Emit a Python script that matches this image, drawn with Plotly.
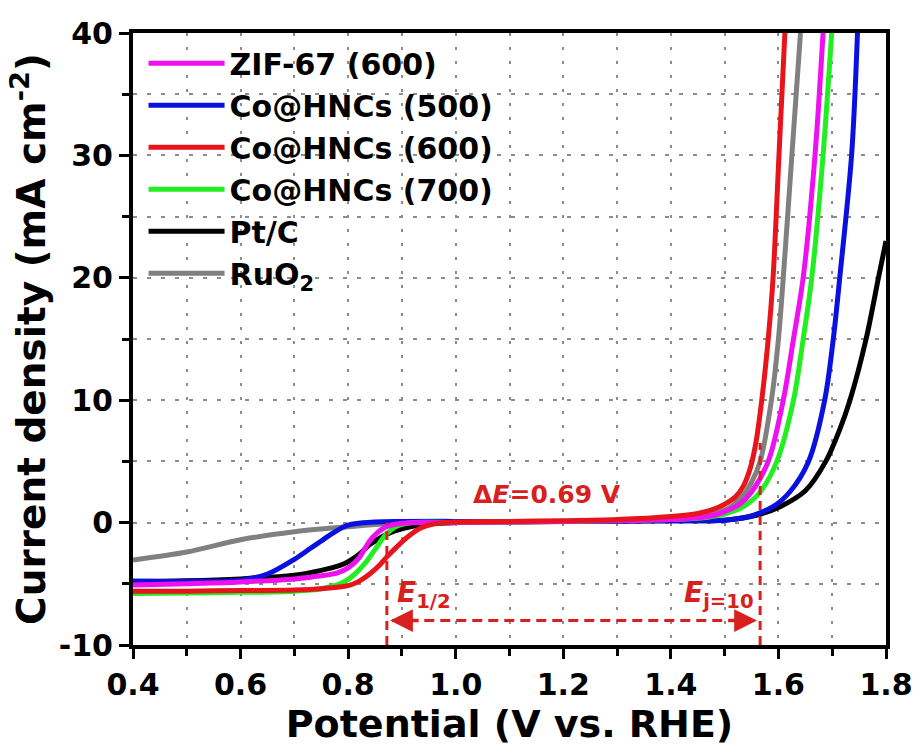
import plotly.graph_objects as go

# ---------------- data ----------------
zif67_x = [0.40, 0.50, 0.60, 0.70, 0.75, 0.78, 0.80, 0.82, 0.84, 0.855, 0.87, 0.90, 1.0, 1.2,
           1.40, 1.45, 1.48, 1.50, 1.528, 1.550, 1.581, 1.609, 1.628, 1.646, 1.668, 1.683]
zif67_y = [-5.1, -5.0, -4.85, -4.6, -4.35, -4.1, -3.7, -2.9, -1.5, -0.8, -0.35, -0.05, 0.0, 0.1,
           0.25, 0.4, 0.6, 0.9, 1.5, 2.5, 5, 10, 15, 20, 30, 40]

co500_x = [0.40, 0.50, 0.60, 0.65, 0.70, 0.73, 0.75, 0.77, 0.80, 0.85, 0.90, 1.0, 1.2, 1.40,
           1.50, 1.53, 1.553, 1.59, 1.621, 1.656, 1.686, 1.702, 1.714, 1.736, 1.747]
co500_y = [-4.8, -4.8, -4.7, -4.2, -3.0, -2.1, -1.5, -0.9, -0.2, 0.05, 0.1, 0.1, 0.1, 0.15,
           0.2, 0.35, 0.6, 1.3, 2.5, 5, 10, 15, 20, 30, 40]

co600_x = [0.40, 0.50, 0.60, 0.70, 0.75, 0.80, 0.82, 0.84, 0.86, 0.872, 0.89, 0.91, 0.935, 0.965,
           1.00, 1.10, 1.20, 1.30, 1.40, 1.45, 1.48, 1.50, 1.52, 1.535, 1.548, 1.558, 1.569, 1.581,
           1.590, 1.601, 1.612]
co600_y = [-5.6, -5.6, -5.55, -5.5, -5.4, -5.15, -4.8, -4.2, -3.4, -2.8, -2.0, -1.2, -0.45, -0.05,
           0.05, 0.1, 0.15, 0.25, 0.5, 0.75, 1.1, 1.5, 2.1, 3.0, 4.5, 6.5, 10, 15, 20, 30, 40]

co700_x = [0.40, 0.50, 0.60, 0.70, 0.75, 0.79, 0.81, 0.83, 0.85, 0.87, 0.89, 0.92, 1.0, 1.2,
           1.40, 1.45, 1.50, 1.535, 1.566, 1.597, 1.628, 1.646, 1.662, 1.683, 1.699]
co700_y = [-5.8, -5.75, -5.7, -5.6, -5.4, -4.9, -4.3, -3.4, -2.2, -1.0, -0.3, 0.0, 0.0, 0.1,
           0.25, 0.35, 0.7, 1.3, 2.5, 5, 10, 15, 20, 30, 40]

ptc_x = [0.40, 0.50, 0.60, 0.70, 0.75, 0.785, 0.80, 0.82, 0.84, 0.854, 0.87, 0.883, 0.90, 0.92,
         0.95, 1.0, 1.2, 1.40, 1.50, 1.559, 1.603, 1.65, 1.688, 1.713, 1.733, 1.763, 1.786, 1.80]
ptc_y = [-4.8, -4.75, -4.6, -4.3, -3.9, -3.5, -3.2, -2.6, -1.8, -1.4, -1.0, -0.75, -0.5, -0.3,
         -0.1, 0.0, 0.1, 0.15, 0.2, 0.6, 1.3, 2.6, 5, 7.5, 10, 15, 20, 23]

ruo2_x = [0.40, 0.50, 0.60, 0.70, 0.77, 0.85, 0.90, 1.00, 1.20, 1.40, 1.45, 1.50, 1.53, 1.55,
          1.566, 1.587, 1.600, 1.609, 1.625, 1.641]
ruo2_y = [-3.05, -2.4, -1.4, -0.75, -0.45, -0.15, -0.05, 0.0, 0.1, 0.3, 0.5, 1.0, 2.0, 3.3,
          5, 10, 15, 20, 30, 40]

# annotation values
e_half = 0.872
e_j10 = 1.566
delta_e_text = "Δ<i>E</i>=0.69 V"

x_ticks = [0.4, 0.6, 0.8, 1.0, 1.2, 1.4, 1.6, 1.8]
x_ticklabels = ["0.4", "0.6", "0.8", "1.0", "1.2", "1.4", "1.6", "1.8"]
y_ticks = [-10, 0, 10, 20, 30, 40]
y_ticklabels = ["-10", "0", "10", "20", "30", "40"]

# ---------------- figure ----------------
FONT = "DejaVu Sans"
RED = "#e8141c"
ANN_RED = "#d8201e"

series = [
    # (name, x, y, color, legendrank) in drawing order
    ("RuO<sub>2</sub>", ruo2_x, ruo2_y, "#808080", 6),
    ("Pt/C", ptc_x, ptc_y, "#000000", 5),
    ("Co@HNCs (500)", co500_x, co500_y, "#0a10e0", 2),
    ("Co@HNCs (700)", co700_x, co700_y, "#22ee22", 4),
    ("ZIF-67 (600)", zif67_x, zif67_y, "#ee10ee", 1),
    ("Co@HNCs (600)", co600_x, co600_y, RED, 3),
]

fig = go.Figure()
for name, xs, ys, col, rank in series:
    fig.add_trace(go.Scatter(
        x=xs, y=ys, mode="lines", name=name, legendrank=rank,
        line=dict(color=col, width=5, shape="spline", smoothing=0.9),
    ))

# dashed guide lines
fig.add_shape(type="line", x0=e_half, x1=e_half, y0=-10, y1=0,
              line=dict(color=ANN_RED, width=3, dash="9px,6px"))
fig.add_shape(type="line", x0=e_j10, x1=e_j10, y0=-10, y1=6.5,
              line=dict(color=ANN_RED, width=3, dash="9px,6px"))
fig.add_shape(type="line", x0=e_half + 0.01, x1=e_j10 - 0.01, y0=-8, y1=-8,
              line=dict(color=ANN_RED, width=3, dash="10px,6px"))

# arrow heads
fig.add_annotation(x=e_half + 0.006, y=-8, ax=30, ay=0, text="", showarrow=True,
                   arrowhead=2, arrowsize=1.3, arrowwidth=3.5, arrowcolor=ANN_RED)
fig.add_annotation(x=e_j10 - 0.006, y=-8, ax=-30, ay=0, text="", showarrow=True,
                   arrowhead=2, arrowsize=1.3, arrowwidth=3.5, arrowcolor=ANN_RED)

# texts
fig.add_annotation(x=1.17, y=2.3, text=delta_e_text, showarrow=False,
                   font=dict(family=FONT, size=25, color=ANN_RED, weight="bold"))
fig.add_annotation(x=0.888, y=-5.9, xanchor="left", yanchor="middle",
                   text="<i>E</i><sub>1/2</sub>", showarrow=False,
                   font=dict(family=FONT, size=28, color=ANN_RED, weight="bold"))
fig.add_annotation(x=1.558, y=-5.9, xanchor="right", yanchor="middle",
                   text="<i>E</i><sub>j=10</sub>", showarrow=False,
                   font=dict(family=FONT, size=28, color=ANN_RED, weight="bold"))

axis_common = dict(
    showline=True, linewidth=4, linecolor="black", mirror=True,
    ticks="outside", ticklen=10, tickwidth=3, tickcolor="black",
    showgrid=True, gridcolor="#8c8c8c", gridwidth=1.5, griddash="3px,11px",
    zeroline=False, automargin=False,
    tickfont=dict(family=FONT, size=30, color="black", weight="bold"),
)

fig.update_xaxes(
    **axis_common,
    range=[0.4, 1.8], tickvals=x_ticks, ticktext=x_ticklabels,
    minor=dict(dtick=0.1, tick0=0.4, ticks="outside", ticklen=7, tickwidth=3,
               tickcolor="black", showgrid=True, gridcolor="#8c8c8c",
               gridwidth=1.5, griddash="3px,11px"),
    title=dict(text="Potential (V vs. RHE)", standoff=6,
               font=dict(family=FONT, size=38, color="black", weight="bold")),
)
fig.update_yaxes(
    **axis_common,
    range=[-10, 40], tickvals=y_ticks, ticktext=y_ticklabels,
    minor=dict(dtick=5, tick0=-10, ticks="outside", ticklen=7, tickwidth=3,
               tickcolor="black", showgrid=True, gridcolor="#8c8c8c",
               gridwidth=1.5, griddash="4px,10px"),
    title=dict(text="Current density (mA cm<sup>-2</sup>)", standoff=2,
               font=dict(family=FONT, size=39, color="black", weight="bold")),
)

fig.update_layout(
    width=916, height=754,
    margin=dict(l=133, r=30, t=33, b=109, autoexpand=False),
    paper_bgcolor="white", plot_bgcolor="white",
    legend=dict(x=0.014, y=0.993, xanchor="left", yanchor="top",
                bgcolor="rgba(0,0,0,0)", itemwidth=76,
                font=dict(family=FONT, size=30, color="black", weight="bold"),
                tracegroupgap=0),
    showlegend=True,
)

fig.write_html("out.html")
